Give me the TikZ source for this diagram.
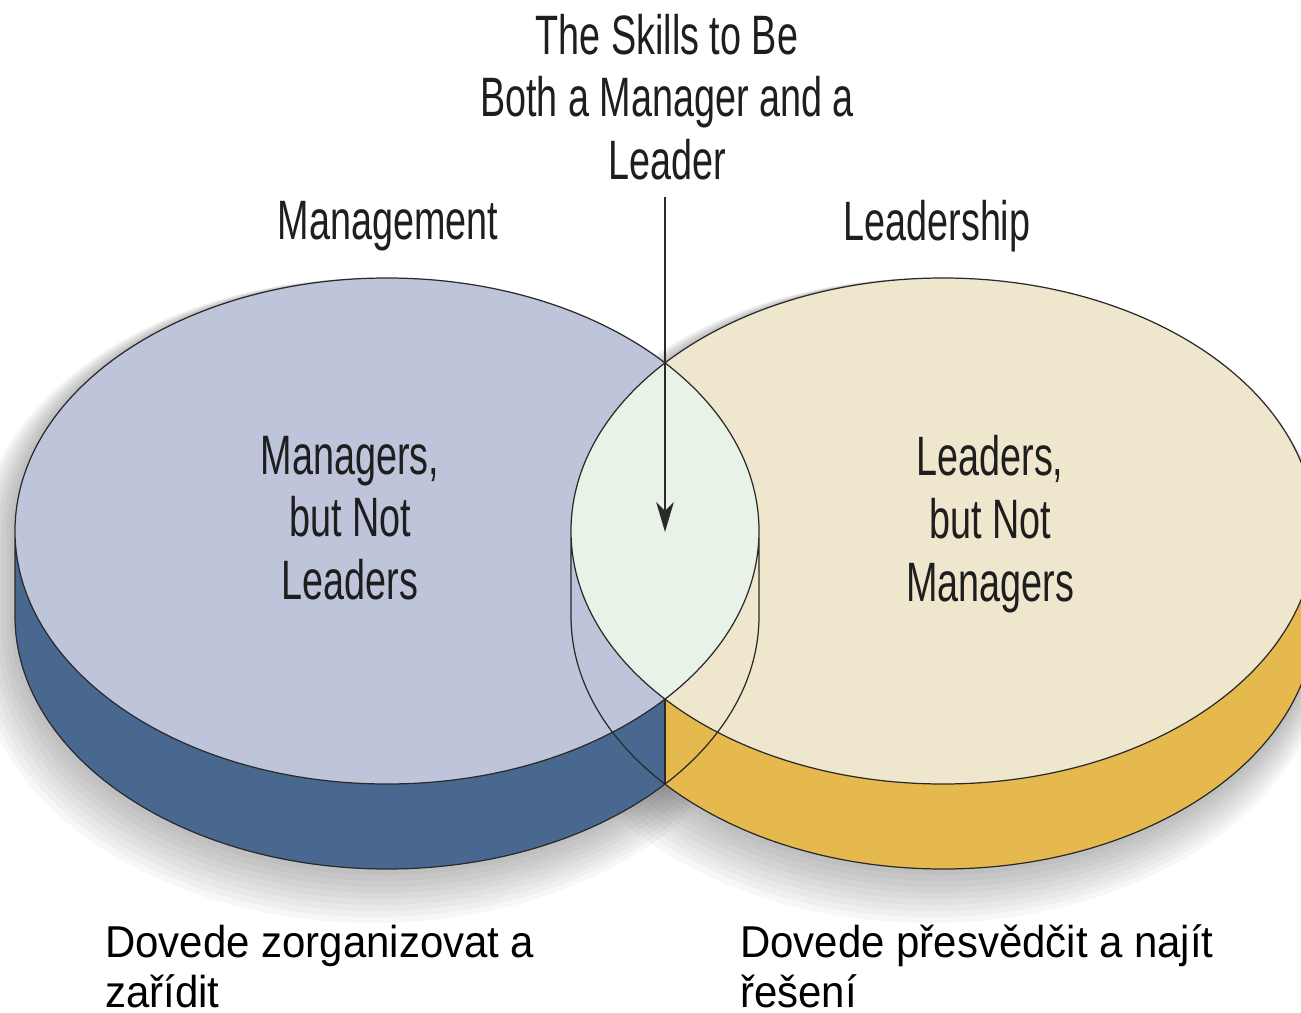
\documentclass[tikz,border=0pt]{standalone}
\usepackage{fontspec}
\setmainfont{Liberation Sans}
\newfontfamily\narrowfont[FakeStretch=0.68]{Liberation Sans}
\newfontfamily\notefont[FakeStretch=0.94]{Liberation Sans}
\usetikzlibrary{arrows.meta}
\definecolor{mgmttop}{HTML}{BEC4DA}
\definecolor{mgmtside}{HTML}{48688F}
\definecolor{leadtop}{HTML}{EFE6CE}
\definecolor{leadside}{HTML}{E5B94E}
\definecolor{bothtop}{HTML}{E8F2E6}
\definecolor{rimgray}{HTML}{2A2A2A}
\definecolor{ink}{HTML}{1E1E1E}
\def\disc#1{(#1,481) ellipse[x radius=372,y radius=253]}
\def\slab#1{({#1-372},481) arc[start angle=180,end angle=0,x radius=372,y radius=253] -- ({#1+372},396) arc[start angle=0,end angle=-180,x radius=372,y radius=253] -- cycle}
\def\rim#1{({#1-372},481) -- ({#1-372},396) arc[start angle=180,end angle=360,x radius=372,y radius=253] -- ({#1+372},481)}

\begin{document}
\begin{tikzpicture}[x=0.02cm,y=0.02cm,
    edge/.style={draw=rimgray,line width=0.7pt},
    label/.style={font=\narrowfont\fontsize{31.6}{35.7}\selectfont,text=ink,align=center,inner sep=0pt},
    note/.style={font=\notefont\fontsize{25.4}{28.4}\selectfont,text=black,align=left,anchor=north west,inner sep=0pt}]
    \useasboundingbox (0,0) rectangle (1301,1012);
    \clip (0,0) rectangle (1301,1012);
    % soft shadow, down and to the left
    \foreach \e in {3,6,...,27}
        \foreach \cx in {387,943}
            \fill[black,opacity=0.03] ({\cx-0.5*\e-372-\e},{481-\e}) arc[start angle=180,end angle=0,x radius=372+\e,y radius=253+\e]
                -- ({\cx-0.5*\e+372+\e},{396-\e}) arc[start angle=0,end angle=-180,x radius=372+\e,y radius=253+\e] -- cycle;
    % sides
    \begin{scope}
        \clip (0,0) rectangle (665,1012);
        \fill[mgmtside] \slab{387};
    \end{scope}
    \begin{scope}
        \clip (665,0) rectangle (1400,1012);
        \fill[leadside] \slab{943};
    \end{scope}
    % tops
    \fill[mgmttop] \disc{387};
    \fill[leadtop] \disc{943};
    \begin{scope}
        \clip \disc{387};
        \fill[bothtop] \disc{943};
    \end{scope}
    \coordinate (lensbot) at (665,313);
    \coordinate (notch) at (665,228);
    \draw[edge] \disc{387} \rim{387};
    \draw[edge] \disc{943} \rim{943};
    \draw[edge] (lensbot) -- (notch);
    % texts
    \node[label] (title) at (667,915) {The Skills to Be\\Both a Manager and a\\Leader};
    \node[label] (mgmt) at (388,786) {Management};
    \node[label] (lead) at (937,786) {Leadership};
    \node[label] (onlymgr) at (350,494) {Managers,\\but Not\\Leaders};
    \node[label] (onlylead) at (990,488) {Leaders,\\but Not\\Managers};
    \node[note] (orgnote) at (105,87) {Dovede zorganizovat a\\zařídit};
    \node[note] (solvenote) at (740,88) {Dovede přesvědčit a najít\\řešení};
    \coordinate (arrowtop) at (665,815);
    \coordinate (tip) at (665,480);
    \draw[rimgray,line width=0.8pt,-{Stealth[length=17pt,width=10pt,inset=5pt]}] (arrowtop) -- (tip);
\end{tikzpicture}
\end{document}
